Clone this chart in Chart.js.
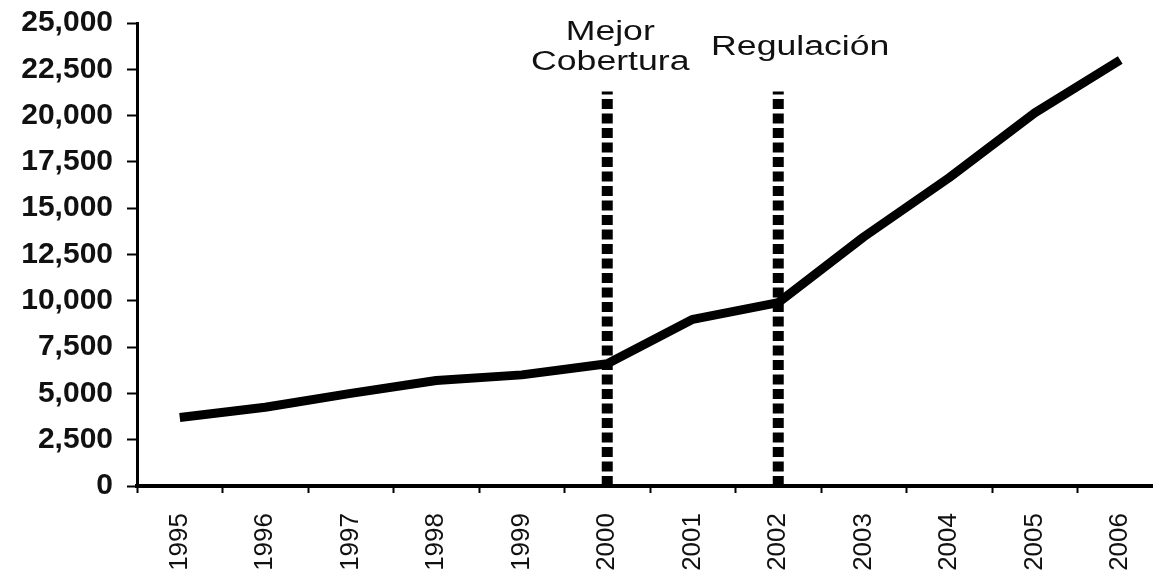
<!DOCTYPE html>
<html>
<head>
<meta charset="utf-8">
<script src="https://cdn.jsdelivr.net/npm/chart.js@4/dist/chart.umd.min.js"></script>
<style>
  html, body { margin: 0; padding: 0; background: #fff; overflow: hidden; }
  canvas { display: block; }
</style>
</head>
<body>
<canvas id="growthChart" width="1163" height="573"></canvas>
<script>
// data
const years = ["1995", "1996", "1997", "1998", "1999", "2000", "2001", "2002", "2003", "2004", "2005", "2006"];
const values = [3700, 4250, 5000, 5700, 6000, 6600, 9000, 9900, 13450, 16650, 20150, 23000];
const markerYears = ["2000", "2002"];
const markerTop = 21300;
const yTicks = [0, 2500, 5000, 7500, 10000, 12500, 15000, 17500, 20000, 22500, 25000];

// annotation texts, anchored on the marker years
const notes = [
  { text: "Mejor", year: "2000", at: 24500, dx: 3 },
  { text: "Cobertura", year: "2000", at: 22850, dx: 3 },
  { text: "Regulación", year: "2002", at: 23650, dx: 22 }
];

const markerSets = markerYears.map((yr) => ({
  label: yr,
  data: [{ x: yr, y: 0 }, { x: yr, y: markerTop }],
  borderColor: "#000",
  borderWidth: 11,
  borderDash: [10, 4.5],
  borderCapStyle: "butt",
  pointRadius: 0,
  tension: 0
}));

const notesPlugin = {
  id: "notes",
  afterDatasetsDraw(chart) {
    const ctx = chart.ctx;
    const xs = chart.scales.x;
    const ys = chart.scales.y;
    ctx.save();
    ctx.font = '27px "Liberation Sans", Arial, sans-serif';
    ctx.fillStyle = "#111";
    ctx.textAlign = "center";
    ctx.textBaseline = "middle";
    notes.forEach((n) => {
      const px = xs.getPixelForValue(years.indexOf(n.year)) + n.dx;
      const py = ys.getPixelForValue(n.at);
      ctx.save();
      ctx.translate(px, py);
      ctx.scale(1.32, 1);
      ctx.fillText(n.text, 0, 0);
      ctx.restore();
    });
    ctx.restore();
  }
};

new Chart(document.getElementById("growthChart"), {
  type: "line",
  data: {
    labels: years,
    datasets: [
      ...markerSets,
      {
        label: "Total",
        data: values,
        borderColor: "#000",
        borderWidth: 9,
        pointRadius: 0,
        tension: 0,
        borderJoinStyle: "round"
      }
    ]
  },
  options: {
    responsive: false,
    animation: false,
    layout: { padding: { top: 23, right: 0, left: 0, bottom: 0 } },
    plugins: {
      legend: { display: false },
      tooltip: { enabled: false }
    },
    scales: {
      x: {
        offset: true,
        afterFit: (scale) => {
          scale.height = 87;
          scale.paddingLeft = 0;
          scale.paddingRight = 0;
        },
        border: { color: "#000", width: 4 },
        grid: {
          offset: true,
          drawOnChartArea: false,
          drawTicks: true,
          tickLength: 7,
          tickColor: "#000",
          tickWidth: 2
        },
        ticks: {
          color: "#111",
          minRotation: 90,
          maxRotation: 90,
          padding: 20,
          font: { family: '"Liberation Sans", Arial, sans-serif', size: 26 }
        }
      },
      y: {
        min: 0,
        max: 25000,
        afterFit: (scale) => {
          scale.width = 137;
          scale.paddingTop = 0;
          scale.paddingBottom = 0;
        },
        afterBuildTicks: (scale) => { scale.ticks = yTicks.map((v) => ({ value: v })); },
        border: { color: "#000", width: 3 },
        grid: {
          drawOnChartArea: false,
          drawTicks: true,
          tickLength: 10,
          tickColor: "#000",
          tickWidth: 2
        },
        ticks: {
          color: "#111",
          padding: 14,
          font: { family: '"Liberation Sans", Arial, sans-serif', size: 30, weight: "bold" }
        }
      }
    }
  },
  plugins: [notesPlugin]
});
</script>
</body>
</html>
